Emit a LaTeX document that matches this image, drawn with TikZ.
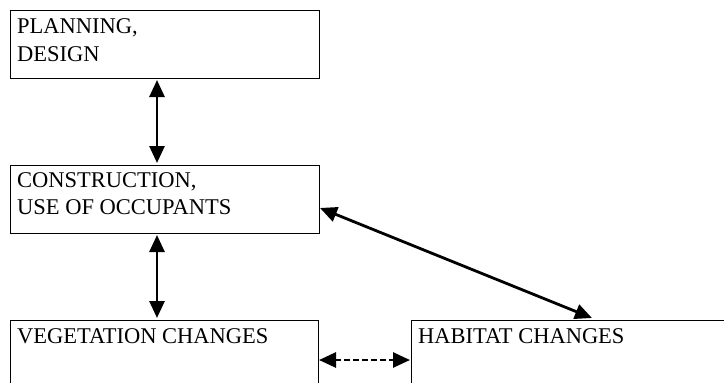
\documentclass[tikz,border=0pt]{standalone}
\usepackage{fontspec}
\setmainfont{Liberation Serif}
\usetikzlibrary{arrows.meta}
\begin{document}
\begin{tikzpicture}[x=1pt,y=-1pt,
  boxline/.style={draw=black,line width=1.3pt},
  lbl/.style={anchor=base west,inner sep=0pt,font=\fontsize{22.5}{27}\selectfont},
  conn/.style={line width=2.8pt,{Triangle[length=17pt,width=15pt]}-{Triangle[length=17pt,width=15pt]}},
  dconn/.style={line width=2.6pt,dash pattern=on 6pt off 3pt,{Triangle[length=17pt,width=15pt]}-{Triangle[length=17pt,width=15pt]}}]
\useasboundingbox (0,0) rectangle (724,383);
\clip (0,0) rectangle (724,383);
\node[boxline,minimum width=309pt,minimum height=68pt,anchor=north west,inner sep=0pt] (plan) at (10,10) {};
\node[boxline,minimum width=309pt,minimum height=68pt,anchor=north west,inner sep=0pt] (cons) at (10,165) {};
\node[boxline,minimum width=308pt,minimum height=80pt,anchor=north west,inner sep=0pt] (veg) at (10,320) {};
\node[boxline,minimum width=330pt,minimum height=80pt,anchor=north west,inner sep=0pt] (hab) at (411,320) {};
\node[lbl] (t1) at (17,33) {PLANNING,};
\node[lbl] (t2) at (17,61) {DESIGN};
\node[lbl] (t3) at (17,187) {CONSTRUCTION,};
\node[lbl] (t4) at (17,214) {USE OF OCCUPANTS};
\node[lbl] (t5) at (17,343) {VEGETATION CHANGES};
\node[lbl] (t6) at (418,343) {HABITAT CHANGES};
\coordinate (a1) at (157,80);
\coordinate (a2) at (157,163);
\coordinate (b1) at (157,235);
\coordinate (b2) at (157,318);
\coordinate (c1) at (320,208);
\coordinate (c2) at (592,318);
\coordinate (d1) at (319,360);
\coordinate (d2) at (410,360);
\draw[conn] (a1) -- (a2);
\draw[conn] (b1) -- (b2);
\draw[conn] (c1) -- (c2);
\draw[dconn] (d1) -- (d2);
\end{tikzpicture}
\end{document}
